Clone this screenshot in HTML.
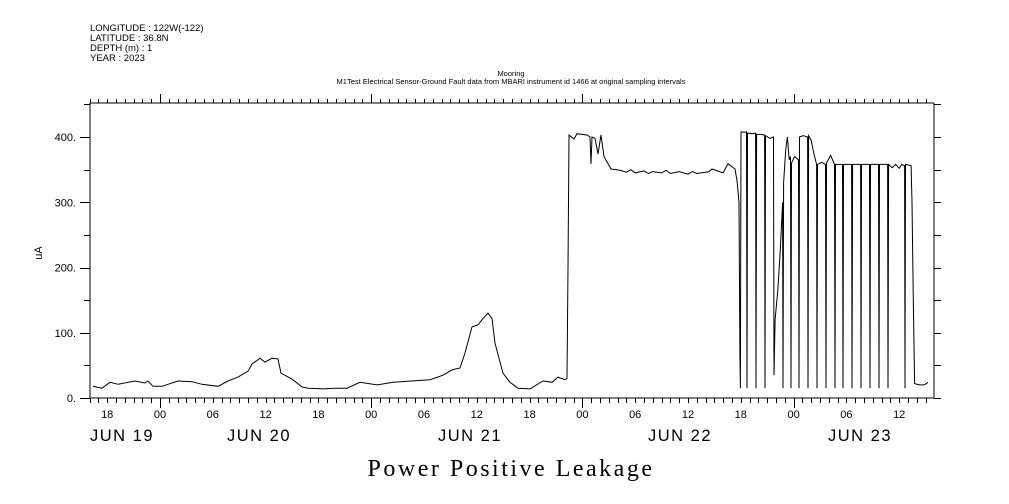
<!DOCTYPE html>
<html><head><meta charset="utf-8"><style>
html,body{margin:0;padding:0;background:#fff;}
svg{display:block;}
text{font-family:"Liberation Sans",sans-serif;fill:#000;}
</style></head><body>
<svg width="1009" height="504" viewBox="0 0 1009 504" xmlns="http://www.w3.org/2000/svg">
<g font-size="9.5">
<text x="90" y="31">LONGITUDE : 122W(-122)</text>
<text x="90" y="41">LATITUDE : 36.8N</text>
<text x="90" y="51">DEPTH (m) : 1</text>
<text x="90" y="61">YEAR : 2023</text>
</g>
<text x="511" y="76" font-size="7.5" text-anchor="middle">Mooring</text>
<text x="511" y="84" font-size="7.5" text-anchor="middle">M1Test Electrical Sensor-Ground Fault data from MBARI instrument id 1466 at original sampling intervals</text>
<text transform="translate(42,253) rotate(-90)" font-size="11" text-anchor="middle">uA</text>
<text x="511" y="476" font-size="24" letter-spacing="2.5" text-anchor="middle" style="font-family:'Liberation Serif',serif">Power Positive Leakage</text>
<g id="axes"></g>
<g id="ticks"></g>
<g id="labels"></g>
<path id="series" fill="none" stroke="#000" stroke-width="1"/>
</svg>
<script>
// hours since Jun 19 00:00
const times=[16.39,17.41,18.32,19.23,21.16,22.30,22.64,23.20,24.23,26.05,27.64,28.77,30.59,31.73,32.86,34.0,34.45,35.36,35.93,36.73,37.41,37.75,39.0,40.14,40.82,42.52,43.89,45.25,46.73,48.66,50.48,54.68,56.16,57.18,58.09,58.66,59.45,60.14,60.70,61.27,61.73,62.07,62.98,63.77,64.68,66.05,67.52,68.55,69.23,70.02,70.25,70.36,70.48,71.05,71.39,72.52,72.86,72.98,73.09,73.43,73.77,74.11,74.45,74.91,75.25,76.27,77,77.5,78,79,79.5,80,81,81.5,82,83,84,84.5,85,86,86.39,86.73,87.98,88.55,
89.34,89.57,89.8,89.9,89.95,90.02,90.4,90.65,90.70,90.76,91.3,91.68,91.73,91.79,92.3,92.7,92.75,92.81,93.3,93.72,93.77,93.9,94.2,94.5,94.75,94.80,94.86,95.1,95.3,95.5,95.65,95.70,95.76,96.1,96.56,96.61,96.67,97.1,97.59,97.64,97.70,98.0,98.3,98.61,98.66,98.72,99.2,99.63,99.68,99.74,100.2,100.65,100.70,100.76,101.56,101.61,101.67,102.59,102.64,102.70,103.61,103.66,103.72,104.63,104.68,104.74,105.65,105.70,105.76,106.68,106.73,106.79,107.2,107.6,108.0,108.3,108.61,108.66,108.72,109.35,109.45,109.6,109.75,110.3,110.8,111.1,111.27];
const leak=[18,15,24,21,26,23,26,18,18,26,25,21,18,26,32,41,52,61,55,61,60,38,29,17,15,14,15,15,24,20,24,28,35,43,46,69,109,112,122,130,122,84,38,24,15,14,26,24,32,28,30,200,403,397,405,403,400,359,400,398,374,403,370,359,351,349,346,350,345,348,344,347,345,349,344,347,343,347,344,346,347,351,345,359,
351,333,300,67,15,408,407,408,15,406,405,406,15,404,404,403,15,402,398,400,35,120,165,230,300,15,330,380,400,365,370,15,360,370,365,15,400,402,400,15,402,395,375,358,15,358,361,358,15,360,372,358,15,358,358,15,358,358,15,358,358,15,358,358,15,358,358,15,358,358,15,358,353,358,352,358,356,15,358,356,300,150,22,20,20,22,24];
const yTickVals=[0,100,200,300,400];
const yTickLabels=["0.","100.","200.","300.","400."];
const hourLabels=["00","06","12","18"];
const dateLabels=["JUN 19","JUN 20","JUN 21","JUN 22","JUN 23"];
const dateLabelX=[90,227,438,648,828];

const L=90,R=934,T=103,B=398;
const tMin=16,tMax=111.9;
const X=t=>160+(t-24)*8.8;
const Y=v=>B-v*0.6525;
const NS="http://www.w3.org/2000/svg";
function mk(tag,parent){const e=document.createElementNS(NS,tag);parent.appendChild(e);return e;}
const axes=document.getElementById('axes'),ticks=document.getElementById('ticks'),labels=document.getElementById('labels');
function line(p,x1,y1,x2,y2){const l=mk('line',p);l.setAttribute('x1',x1);l.setAttribute('y1',y1);l.setAttribute('x2',x2);l.setAttribute('y2',y2);l.setAttribute('stroke','#000');l.setAttribute('stroke-width','1');l.setAttribute('shape-rendering','crispEdges');return l;}
let a;
a=line(axes,L,B,R,B);


a=line(axes,L,T,R,T);


a=line(axes,L,T,L,B);


a=line(axes,R,T,R,B);


for(let v=0;v<=450;v+=50){
  const y=Math.round(Y(v))+0.5;
  const major=v%100===0;
  let tk=line(ticks,major?80:84,y,L,y);
  
  
  tk=line(ticks,R,y,R+7,y);
  
  
}
yTickVals.forEach((v,i)=>{
  const t=mk('text',labels);
  
  
  t.setAttribute('x',76);t.setAttribute('y',Y(v)+4);t.setAttribute('text-anchor','end');t.setAttribute('font-size','11');
  t.textContent=yTickLabels[i];
});
for(let h=Math.ceil(tMin);h<=tMax;h++){
  const x=Math.round(X(h))+0.5;
  const day=h%24===0;
  let tk=line(ticks,x,B,x,day?408:403);
  
  
  tk=line(ticks,x,T,x,day?94:99);
  
  
  if(h%6===0){
    const t=mk('text',labels);
    
    
    t.setAttribute('x',X(h));t.setAttribute('y',418);t.setAttribute('text-anchor','middle');t.setAttribute('font-size','11');
    t.textContent=hourLabels[(h%24)/6];
  }
}
dateLabels.forEach((d,i)=>{
  const t=mk('text',labels);
  
  
  t.setAttribute('x',dateLabelX[i]);t.setAttribute('y',441);t.setAttribute('font-size','16.5');t.setAttribute('letter-spacing','1.5');
  t.textContent=d;
});
let dstr='';
times.forEach((t,i)=>{dstr+=(i?'L':'M')+X(t).toFixed(1)+','+Y(leak[i]).toFixed(1);});
document.getElementById('series').setAttribute('d',dstr);
</script>
</body></html>
